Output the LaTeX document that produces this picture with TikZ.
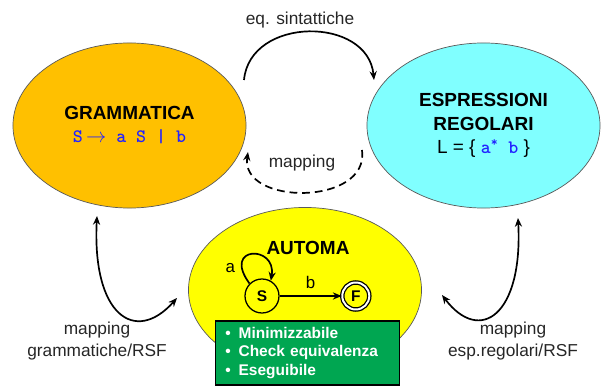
\documentclass[tikz,border=0pt]{standalone}
\usepackage{fontspec}
\setmainfont{Liberation Sans}
\usetikzlibrary{arrows.meta,positioning,shapes.geometric}
\definecolor{gramorange}{HTML}{FFC000}
\definecolor{regcyan}{HTML}{80FFFF}
\definecolor{autyellow}{HTML}{FFFF00}
\definecolor{propgreen}{HTML}{00A651}
\definecolor{formblue}{HTML}{2323FF}
\definecolor{edgegray}{HTML}{5A5A5A}
\definecolor{labelgray}{HTML}{262626}
\tikzset{
  model/.style={
    ellipse,
    draw=edgegray,
    line width=0.5pt,
    align=center,
    minimum width=5.825cm,
    minimum height=4.125cm,
    font=\bfseries\fontsize{13.5}{16.5}\selectfont
  },
  state/.style={
    circle,
    draw=black,
    line width=0.9pt,
    inner sep=0pt,
    minimum size=0.85cm,
    font=\bfseries\fontsize{11}{13}\selectfont
  },
  final/.style={
    state,
    double,
    double distance=1.4pt,
    minimum size=0.675cm
  },
  props/.style={
    rectangle,
    draw=black,
    line width=1.2pt,
    fill=propgreen,
    text=white,
    align=left,
    inner xsep=0.25cm,
    text width=4.1cm,
    minimum height=1.6cm,
    font=\bfseries\fontsize{11}{13.1}\selectfont
  },
  maplabel/.style={align=center,text=labelgray,font=\fontsize{12.3}{15.6}\selectfont},
  arrow/.style={-{Stealth[length=2.2mm,width=1.8mm]},line width=1.2pt},
  twoway/.style={{Stealth[length=2.2mm,width=1.8mm]}-{Stealth[length=2.2mm,width=1.8mm]},line width=1.2pt}
}
\newcommand{\formula}[1]{{\fontsize{13.5}{16.5}\selectfont\ttfamily\bfseries\color{formblue}#1}}

\begin{document}
\begin{tikzpicture}[x=0.025cm,y=-0.025cm]
    \useasboundingbox (0,0) rectangle (608,387);

    \node[model,fill=gramorange] (gram) at (129.5,125.5)
      {GRAMMATICA\\\formula{S\,$\rightarrow$ a S | b}};
    \node[model,fill=regcyan] (regex) at (483.5,125.5)
      {ESPRESSIONI\\REGOLARI\\{\normalfont L = \{ \formula{a\textsuperscript{*} b} \}}};
    \node[model,fill=autyellow] (aut) at (305,290) {};
    \node[font=\bfseries\fontsize{13.5}{16}\selectfont] (auttitle) at (308,248) {AUTOMA};

    % automa
    \node[state] (S) at (262,296) {S};
    \node[final,right=1.55cm of S] (F) {F};
    \draw[arrow] (S) -- node[above=1pt,font=\fontsize{12}{14}\selectfont] (blab) {b} (F);
    \draw[arrow] (S.135) .. controls +(-28,-38) and +(6,-36) .. (S.60)
      node[pos=0.16,left=1pt,font=\fontsize{12}{14}\selectfont] (alab) {a};

    \node[props] (props) at (307.5,353)
      {\textbullet\hspace{0.5em}Minimizzabile\\\textbullet\hspace{0.5em}Check equivalenza\\\textbullet\hspace{0.5em}Eseguibile};

    % arrow ends
    \coordinate (gtop) at (244,80);
    \coordinate (rtop) at (374,80);
    \coordinate (rlow) at (362,150);
    \coordinate (glow) at (248,152);
    \coordinate (gbot) at (97,216);
    \coordinate (aleft) at (177,298);
    \coordinate (rbot) at (518,218);
    \coordinate (aright) at (442,295);

    \draw[arrow] (gtop) .. controls (250,16) and (368,16) .. (rtop);
    \draw[arrow,dash pattern=on 5.5pt off 3.5pt] (rlow) .. controls (370,206) and (240,206) .. (glow);
    \draw[twoway] (gbot) .. controls (92,315) and (135,345) .. (aleft);
    \draw[twoway] (rbot) .. controls (523,315) and (480,345) .. (aright);

    \node[maplabel] (eqlab) at (300,20) {eq. sintattiche};
    \node[maplabel] (maplab) at (302,163) {mapping};
    \node[maplabel] (gmaplab) at (97,341) {mapping\\grammatiche/RSF};
    \node[maplabel] (rmaplab) at (513,341) {mapping\\esp.regolari/RSF};
  \end{tikzpicture}
\end{document}
